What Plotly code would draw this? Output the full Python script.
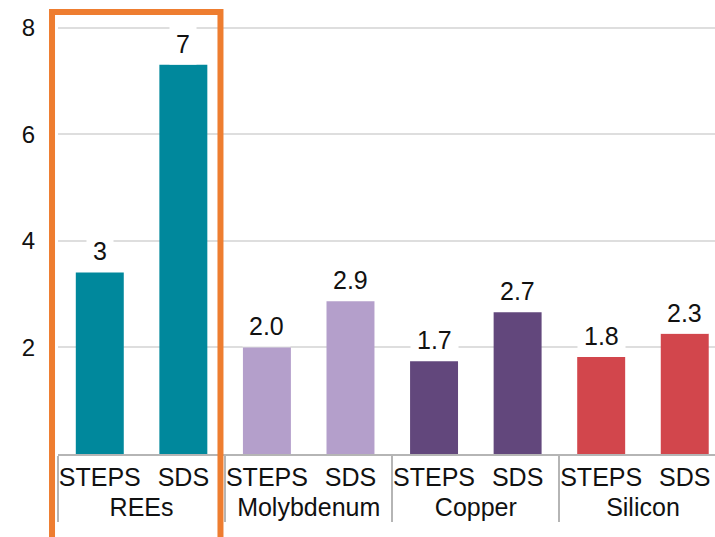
import plotly.graph_objects as go

# Critical minerals demand, by scenario
groups = ["REEs", "REEs", "Molybdenum", "Molybdenum", "Copper", "Copper", "Silicon", "Silicon"]
scenarios = ["STEPS", "SDS", "STEPS", "SDS", "STEPS", "SDS", "STEPS", "SDS"]
values = [3.41, 7.31, 2.0, 2.87, 1.74, 2.66, 1.82, 2.26]
label_decimals = [0, 0, 1, 1, 1, 1, 1, 1]
bar_colors = ["#00889C", "#00889C", "#B49FCB", "#B49FCB",
              "#62477C", "#62477C", "#D2464C", "#D2464C"]
y_ticks = [2, 4, 6, 8]

FONT = "Liberation Sans, Arial, sans-serif"
TEXT = "#111111"

fig = go.Figure()
fig.add_trace(go.Bar(
    x=[groups, scenarios],
    y=values,
    marker=dict(color=bar_colors, line=dict(width=0)),
    showlegend=False,
    hoverinfo="skip",
))

# value labels on white boxes so the gridlines break behind them
for i, (v, d) in enumerate(zip(values, label_decimals)):
    fig.add_annotation(
        x=i, y=v, xref="x", yref="y",
        text=f"{v:.{d}f}",
        showarrow=False,
        yanchor="bottom",
        yshift=0,
        bgcolor="white",
        borderpad=6,
        font=dict(family=FONT, size=25, color=TEXT),
    )

# highlight frame around the REEs group
fig.add_shape(
    type="rect", xref="paper", yref="paper",
    x0=-0.0091, x1=0.2473, y0=-0.22, y1=1.0,
    line=dict(color="#EE7D30", width=6),
    fillcolor="rgba(0,0,0,0)",
    layer="above",
)

fig.update_layout(
    width=715, height=537,
    margin=dict(l=58, r=0, t=12, b=83),
    paper_bgcolor="white",
    plot_bgcolor="white",
    bargap=0.426,
    font=dict(family=FONT, size=25, color=TEXT),
    xaxis=dict(
        type="multicategory",
        range=[-0.5, 7.362],
        automargin=False,
        tickangle=0,
        showgrid=False,
        showline=True,
        linecolor="#B5B5B5",
        linewidth=2,
        showdividers=True,
        dividercolor="#B5B5B5",
        dividerwidth=2,
        ticks="",
        tickfont=dict(family=FONT, size=25, color=TEXT),
    ),
    yaxis=dict(
        range=[0, 8.3],
        automargin=False,
        tickvals=y_ticks,
        ticktext=[str(t) for t in y_ticks],
        showgrid=True,
        gridcolor="#DEDEDE",
        gridwidth=2,
        zeroline=False,
        showline=False,
        ticks="outside",
        ticklen=17,
        tickcolor="rgba(0,0,0,0)",
        tickfont=dict(family=FONT, size=24, color=TEXT),
    ),
)

fig.write_html("out.html")
